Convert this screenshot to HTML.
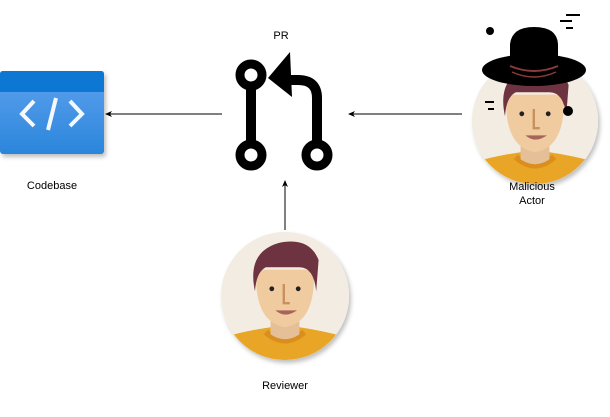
<!DOCTYPE html>
<html><head><style>
body{margin:0;width:610px;height:412px;background:#fff;overflow:hidden;font-family:"Liberation Sans",sans-serif;}
</style></head><body>
<svg width="610" height="412" viewBox="0 0 610 412" xmlns="http://www.w3.org/2000/svg" font-family="Liberation Sans, sans-serif" font-size="11" fill="#000">
<defs>
<linearGradient id="cb" x1="0" y1="0" x2="0" y2="1"><stop offset="0" stop-color="#5ea0ee"/><stop offset="1" stop-color="#2a86db"/></linearGradient>
<filter id="sh"><feDropShadow dx="2" dy="3" stdDeviation="2" flood-color="#000" flood-opacity="0.25"/></filter>
<clipPath id="c1"><circle cx="285" cy="296" r="64"/></clipPath>
<clipPath id="c2"><circle cx="535" cy="121" r="63"/></clipPath>
<g id="face">
<circle cx="0" cy="0" r="64" fill="#f3ece2"/>
<g transform="scale(1.2)">
<path d="M-70 64 L-70 40 Q-40 30 -12 26 L12 26 Q40 30 70 40 L70 64Z" fill="#e8a526"/>
<path d="M-16 30 Q0 44 16 30" fill="none" stroke="#d98e1e" stroke-width="5"/>
<path d="M-12 14 L-12 32 Q0 40 12 32 L12 14Z" fill="#e4bf97"/>
<path d="M-24 -22 Q-26 22 0 26 Q26 22 24 -22Z" fill="#f0cba0"/>
<path d="M-25 -4 Q-32 -36 -6 -44 Q20 -50 28 -30 L26 -4 Q24 -24 12 -24 L-16 -24 Q-24 -20 -25 -4Z" fill="#6e3340"/>
<circle cx="-11" cy="-6" r="2" fill="#222"/><circle cx="11" cy="-6" r="2" fill="#222"/>
<path d="M-1 -10 L-1 6 L4 6" fill="none" stroke="#c9905e" stroke-width="2"/>
<path d="M-8 12 Q0 19 10 12 Z" fill="#a8645a"/>
</g>
</g>
</defs>
<g filter="url(#sh)">
<rect x="0" y="71" width="104" height="83" rx="3" fill="url(#cb)"/>
<path d="M0 74 Q0 71 3 71 L101 71 Q104 71 104 74 L104 92 L0 92Z" fill="#0c78d4"/>
</g>
<g stroke="#fff" stroke-width="4" fill="none" opacity="0.95">
<path d="M34 101 L22 114 L34 126"/><path d="M70 101 L82 114 L70 126"/><path d="M56 98 L48 130"/>
</g>
<text x="52" y="189" text-anchor="middle">Codebase</text>
<line x1="222" y1="114" x2="110" y2="114" stroke="#000"/><path d="M105 114 L112 111 L110 114 L112 117Z"/>
<line x1="462" y1="114" x2="353" y2="114" stroke="#000"/><path d="M348 114 L355 111 L353 114 L355 117Z"/>
<line x1="285" y1="230" x2="285" y2="185" stroke="#000"/><path d="M285 180 L282 187 L285 185 L288 187Z"/>
<text x="281" y="39" text-anchor="middle">PR</text>
<g fill="none" stroke="#000" stroke-width="9">
<line x1="251" y1="88" x2="251" y2="142" stroke-width="10"/>
<circle cx="251" cy="75" r="11"/><circle cx="251" cy="155" r="11"/><circle cx="317" cy="155" r="11"/>
<path d="M317 143 L317 98 Q317 80 298 80 L285 80" stroke-width="10"/>
</g>
<path d="M268 78 L290 52 L292 97Z"/>
<g filter="url(#sh)"><circle cx="285" cy="296" r="64" fill="#f3ece2"/></g>
<g clip-path="url(#c1)"><use href="#face" x="285" y="296"/></g>
<text x="285" y="389" text-anchor="middle">Reviewer</text>
<g filter="url(#sh)"><circle cx="535" cy="121" r="63" fill="#f3ece2"/></g>
<g clip-path="url(#c2)"><use href="#face" x="535" y="121"/></g>
<ellipse cx="534" cy="70" rx="52" ry="16" fill="#000"/>
<path d="M510 72 L510 44 Q512 27 534 27 Q557 27 558 44 L558 72Z" fill="#000"/>
<path d="M510 66 Q534 76 558 66" stroke="#8a3b3b" stroke-width="2" fill="none"/>
<path d="M512 72 Q534 82 556 72" stroke="#8a3b3b" stroke-width="1.5" fill="none"/>
<circle cx="490" cy="31" r="4"/><circle cx="568" cy="111" r="5"/>
<g stroke="#000" stroke-width="2"><line x1="566" y1="15" x2="580" y2="15"/><line x1="560" y1="21" x2="572" y2="21"/><line x1="566" y1="28" x2="573" y2="28"/><line x1="485" y1="102" x2="494" y2="102"/><line x1="488" y1="109" x2="494" y2="109"/></g>
<text x="532" y="190" text-anchor="middle">Malicious</text>
<text x="532" y="204" text-anchor="middle">Actor</text>
</svg>
</body></html>
